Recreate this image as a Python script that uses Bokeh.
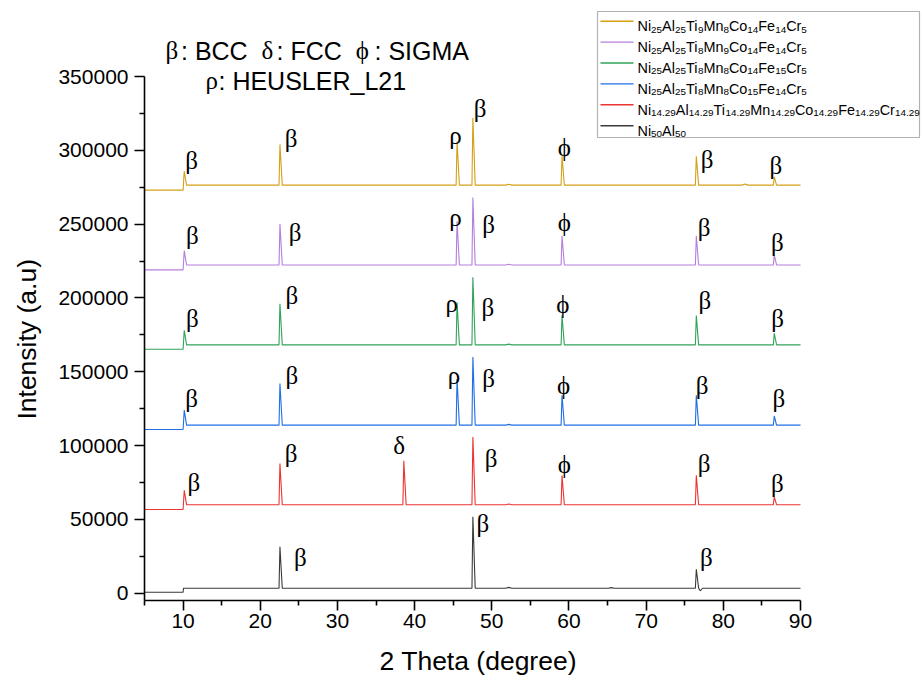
from bokeh.plotting import figure
from bokeh.models import Range1d, FixedTicker, NumeralTickFormatter, Label, BoxAnnotation, ColumnDataSource
from bokeh.embed import file_html
from bokeh.resources import INLINE
from bokeh.core.properties import value

SANS = "Liberation Sans"
SERIF = "Liberation Serif"

# ---------------- data ----------------
x_start, x_step, x_end = 5, 10.0, 90
y_low, y_high = -5000, 350000

x_title = "2 Theta (degree)"
y_title = "Intensity (a.u)"

elements = ["Ni", "Al", "Ti", "Mn", "Co", "Fe", "Cr"]
comp_orange = ["25", "25", "9", "8", "14", "14", "5"]
comp_purple = ["25", "25", "8", "9", "14", "14", "5"]
comp_green = ["25", "25", "8", "8", "14", "15", "5"]
comp_blue = ["25", "25", "8", "8", "15", "14", "5"]
comp_red = ["14.29", "14.29", "14.29", "14.29", "14.29", "14.29", "14.29"]
comp_black = ["50", "50"]

colors = ["#D4A017", "#B57EDC", "#2FA35A", "#1F6FE5", "#EE3333", "#3A3A3A"]

base_before = [273000, 219000, 165200, 110800, 56600, 600]
base_after = [276400, 222300, 168200, 113800, 59900, 3300]

pk_orange_x = [10.15, 22.55, 45.5, 47.55, 52.2, 59.1, 76.5, 82.8, 86.6]
pk_orange_y = [286000, 304000, 306000, 322000, 277000, 296000, 296000, 277200, 282000]
pk_purple_x = [10.15, 22.55, 45.5, 47.55, 52.2, 59.1, 76.5, 86.6]
pk_purple_y = [232000, 250000, 252000, 268000, 222800, 242000, 242000, 229000]
pk_green_x = [10.15, 22.55, 45.5, 47.55, 52.2, 59.1, 76.5, 86.6]
pk_green_y = [178000, 196000, 197000, 214000, 168700, 188000, 188000, 176000]
pk_blue_x = [10.15, 22.55, 45.5, 47.55, 52.2, 59.1, 76.5, 86.6]
pk_blue_y = [124000, 142000, 145000, 160000, 114300, 134000, 134000, 120000]
pk_red_x = [10.15, 22.55, 38.6, 47.55, 52.2, 59.1, 76.5, 86.6]
pk_red_y = [69700, 87800, 89600, 105800, 60400, 79700, 79900, 65200]
pk_black_x = [22.55, 47.55, 52.2, 65.5, 76.5]
pk_black_y = [31400, 51700, 3900, 3700, 16200]
dip_black_x = [77.0, 77.3]
dip_black_y = [1600, 3300]

# phase labels (x, y, symbol)
lab_x = [11.1, 24.0, 45.3, 48.5, 59.4, 77.9, 86.8,
         11.2, 24.5, 45.3, 49.6, 59.4, 77.5, 87.0,
         11.2, 24.1, 44.8, 49.5, 59.2, 77.6, 87.05,
         11.1, 24.1, 45.1, 49.6, 59.3, 77.25, 87.2,
         11.4, 24.0, 38.0, 49.9, 59.4, 77.5, 87.0,
         25.2, 48.85, 77.8]
lab_y = [293000, 308000, 310000, 328000, 302000, 294000, 289700,
         242300, 244500, 254700, 249700, 251300, 247900, 237700,
         185800, 201600, 196000, 193700, 195300, 198200, 185800,
         131600, 147400, 147400, 145200, 140600, 140600, 131600,
         75100, 94400, 100000, 91000, 86900, 87600, 74000,
         24100, 47000, 24100]
lab_t = ["β", "β", "ρ", "β", "ϕ", "β", "β",
         "β", "β", "ρ", "β", "ϕ", "β", "β",
         "β", "β", "ρ", "β", "ϕ", "β", "β",
         "β", "β", "ρ", "β", "ϕ", "β", "β",
         "β", "β", "δ", "β", "ϕ", "β", "β",
         "β", "β", "β"]

x_ticks = [10, 20, 30, 40, 50, 60, 70, 80, 90]
x_minor = [5, 15, 25, 35, 45, 55, 65, 75, 85]
y_ticks = [0, 50000, 100000, 150000, 200000, 250000, 300000, 350000]
y_minor = [25000, 75000, 125000, 175000, 225000, 275000, 325000]


def trace(px, py, pre, post, ex=(), ey=()):
    pts = [(x_start, pre), (x_step, pre)]
    if not any(abs(v - x_step) < 0.5 for v in px):
        pts.append((x_step + 0.05, post))
    for a, b in zip(px, py):
        if abs(a - x_step) < 0.5:
            pts += [(a, b), (a + 0.3, post)]
        elif b - post < 3000:
            pts += [(a - 0.4, post), (a, b), (a + 0.4, post)]
        else:
            pts += [(a - 0.12, post), (a, b), (a + 0.3, post)]
    pts += list(zip(ex, ey))
    pts.append((x_end, post))
    pts.sort(key=lambda t: t[0])
    return [t[0] for t in pts], [t[1] for t in pts]


# ---------- canvas geometry ----------
W, H = 924, 679
AX_LEFT, AX_RIGHT, AX_TOP, AX_BOTTOM = 144, 800, 76, 600   # where the axes run
FR_RIGHT, FR_TOP = 922, 4                                   # frame extended for key/legend
x_per_px = (x_end - x_start) / (AX_RIGHT - AX_LEFT)
y_per_px = (y_high - y_low) / (AX_BOTTOM - AX_TOP)
xr_end = x_end + (FR_RIGHT - AX_RIGHT) * x_per_px
yr_end = y_high + (AX_TOP - FR_TOP) * y_per_px

p = figure(width=W, height=H, x_range=Range1d(x_start, xr_end), y_range=Range1d(y_low, yr_end),
           output_backend="svg", toolbar_location=None,
           min_border_left=AX_LEFT, min_border_right=W - FR_RIGHT,
           min_border_top=FR_TOP, min_border_bottom=H - AX_BOTTOM)
p.outline_line_color = None
p.xgrid.visible = False
p.ygrid.visible = False
p.background_fill_color = "white"
p.border_fill_color = "white"

series = [
    (pk_orange_x, pk_orange_y, (), ()),
    (pk_purple_x, pk_purple_y, (), ()),
    (pk_green_x, pk_green_y, (), ()),
    (pk_blue_x, pk_blue_y, (), ()),
    (pk_red_x, pk_red_y, (), ()),
    (pk_black_x, pk_black_y, dip_black_x, dip_black_y),
]
for i, (sx_, sy_, ex, ey) in enumerate(series):
    xs, ys = trace(sx_, sy_, base_before[i], base_after[i], ex, ey)
    p.line(xs, ys, line_color=colors[i], line_width=1.1)

src = ColumnDataSource(dict(x=lab_x, y=lab_y, t=lab_t))
p.text(x="x", y="y", text="t", source=src, text_font=value(SERIF), text_font_size="25px",
       text_align="center", text_baseline="middle", text_color="black")

# axes
AT = 26.5
for ax in (p.xaxis[0], p.yaxis[0]):
    ax.axis_line_width = 1.6
    ax.axis_line_color = "black"
    ax.major_tick_line_width = 1.6
    ax.minor_tick_line_width = 1.6
    ax.major_tick_line_color = "black"
    ax.minor_tick_line_color = "black"
    ax.major_tick_in = 0
    ax.major_tick_out = 10
    ax.minor_tick_in = 0
    ax.minor_tick_out = 5
    ax.major_label_text_font = SANS
    ax.major_label_text_font_size = "21px"
    ax.major_label_text_color = "black"
    ax.axis_label_text_font = SANS
    ax.axis_label_text_font_size = f"{AT}px"
    ax.axis_label_text_font_style = "normal"
    ax.axis_label_text_color = "black"

p.xaxis.bounds = (x_start, x_end)
p.yaxis.bounds = (y_low, y_high)
p.xaxis.ticker = FixedTicker(ticks=x_ticks, minor_ticks=x_minor)
p.yaxis.ticker = FixedTicker(ticks=y_ticks, minor_ticks=y_minor)
p.yaxis.formatter = NumeralTickFormatter(format="0")
p.xaxis.major_label_standoff = 3
p.yaxis.major_label_standoff = 6

# axis titles: the frame is wider/taller than the drawn axes, so pad with
# no-break spaces to centre the titles on the drawn axes instead of the frame
NBSP = "\u00a0"
sp_w = 0.278 * AT
x_shift = ((AX_LEFT + FR_RIGHT) / 2 - (AX_LEFT + AX_RIGHT) / 2) - 4
y_shift = ((AX_TOP + AX_BOTTOM) / 2 - (FR_TOP + AX_BOTTOM) / 2) + 2
p.xaxis.axis_label = x_title + NBSP * round(2 * x_shift / sp_w)
p.yaxis.axis_label = y_title + NBSP * round(2 * y_shift / sp_w)
p.xaxis.axis_label_standoff = 15
p.yaxis.axis_label_standoff = 13

# ---------- helpers for screen placement (frame relative) ----------
FL, FB = AX_LEFT, AX_BOTTOM


def sx(cx):
    return cx - FL


def sy(cy):
    return FB - cy


ARIAL = {"N": 722, "i": 222, "A": 667, "l": 222, "T": 611, "M": 833, "n": 556, "C": 722,
         "o": 556, "F": 611, "e": 556, "r": 333, ".": 278, ":": 278, " ": 278, "B": 667,
         "S": 667, "I": 278, "G": 778, "H": 722, "E": 667, "U": 722, "L": 556, "R": 722,
         "_": 556}
for d in "0123456789":
    ARIAL[d] = 556
GREEK_W = {"β": 620, "δ": 600, "ϕ": 750, "ρ": 520}


def tw(s, size):
    return sum(ARIAL.get(c, GREEK_W.get(c, 556)) for c in s) / 1000.0 * size


# ---------- legend ----------
leg_left, leg_top, leg_right, leg_bottom = 597, 11, 919, 137
p.add_layout(BoxAnnotation(left=sx(leg_left), right=sx(leg_right), top=sy(leg_top), bottom=sy(leg_bottom),
                           left_units="screen", right_units="screen", top_units="screen", bottom_units="screen",
                           fill_color="white", fill_alpha=1.0, line_color="black", line_width=1.2))
legend_comps = [comp_orange, comp_purple, comp_green, comp_blue, comp_red, comp_black]
MAIN, SUB = 14.4, 9.9
row0, drow = 20.7, 20.9
for r, comp in enumerate(legend_comps):
    cy = row0 + r * drow
    p.add_layout(BoxAnnotation(left=sx(600), right=sx(633), top=sy(cy - 0.7), bottom=sy(cy + 0.7),
                               left_units="screen", right_units="screen", top_units="screen",
                               bottom_units="screen", fill_color=colors[r], fill_alpha=1.0,
                               line_color=None))
    x = 637.0
    base = cy + 5.2
    for el, num in zip(elements, comp):
        p.add_layout(Label(x=sx(x), y=sy(base), x_units="screen", y_units="screen", text=el,
                           text_font=SANS, text_font_size=f"{MAIN}px", text_baseline="alphabetic",
                           text_align="left", text_color="black"))
        x += tw(el, MAIN)
        p.add_layout(Label(x=sx(x), y=sy(base + 3.2), x_units="screen", y_units="screen", text=num,
                           text_font=SANS, text_font_size=f"{SUB}px", text_baseline="alphabetic",
                           text_align="left", text_color="black"))
        x += tw(num, SUB)

# ---------- phase key ----------
TS = 25
title_lines = [
    (165, 50, ["β", ": BCC  ", "δ", ": FCC  ", "ϕ", ": SIGMA"]),
    (205, 80, ["ρ", ": HEUSLER_L21"]),
]
for x0, base, parts in title_lines:
    x = float(x0)
    for part in parts:
        greek = part in GREEK_W
        txt = part.rstrip() if not greek else part
        p.add_layout(Label(x=sx(x), y=sy(base), x_units="screen", y_units="screen", text=txt,
                           text_font=SERIF if greek else SANS, text_font_size=f"{TS}px",
                           text_baseline="alphabetic", text_align="left", text_color="black"))
        x += tw(part, TS)

open("out.html", "w").write(file_html(p, INLINE))
